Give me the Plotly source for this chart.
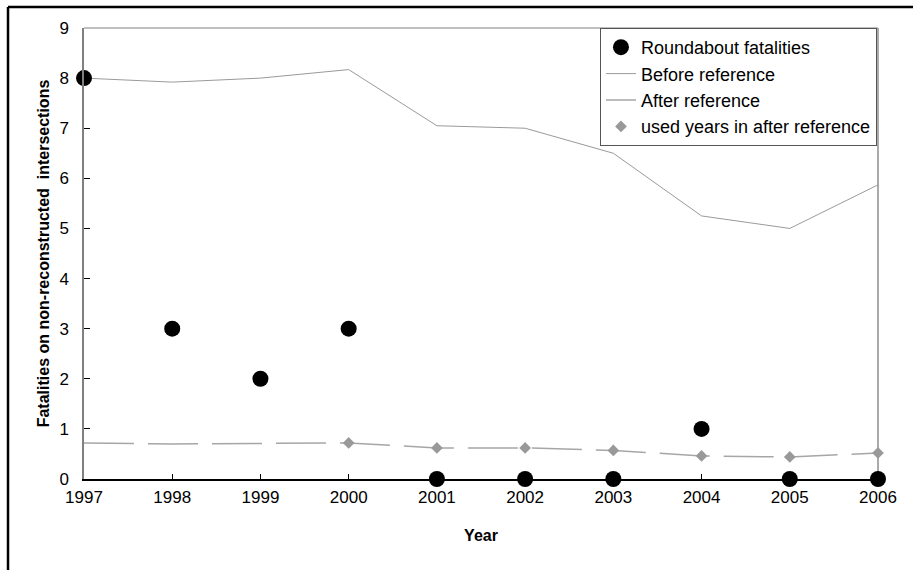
import plotly.graph_objects as go

years = [1997, 1998, 1999, 2000, 2001, 2002, 2003, 2004, 2005, 2006]
roundabout = [8, 3, 2, 3, 0, 0, 0, 1, 0, 0]
before_ref = [8.0, 7.92, 8.0, 8.17, 7.05, 7.0, 6.5, 5.25, 5.0, 5.87]
after_ref = [0.72, 0.70, 0.71, 0.72, 0.62, 0.62, 0.57, 0.46, 0.44, 0.52]
used_years = [2000, 2001, 2002, 2003, 2004, 2005, 2006]
used_vals = [0.72, 0.62, 0.62, 0.57, 0.46, 0.44, 0.52]

FONT = "Liberation Sans, Arial, sans-serif"

fig = go.Figure()

fig.add_trace(go.Scatter(
    x=years, y=before_ref, mode="lines", name="Before reference",
    line=dict(color="#9a9a9a", width=1), cliponaxis=False, legendrank=2,
))
fig.add_trace(go.Scatter(
    x=years, y=after_ref, mode="lines", name="After reference",
    line=dict(color="#a6a6a6", width=1.5, dash="50px,14px"), cliponaxis=False,
    legendrank=3,
))
fig.add_trace(go.Scatter(
    x=used_years, y=used_vals, mode="markers", name="used years in after reference",
    marker=dict(symbol="diamond", size=9, color="#999999"), cliponaxis=False,
    legendrank=4,
))
# circles drawn last so they sit on top of the lines
fig.add_trace(go.Scatter(
    x=years, y=roundabout, mode="markers", name="Roundabout fatalities",
    marker=dict(symbol="circle", size=16, color="black"), cliponaxis=False,
    legendrank=1,
))

# plot-area border (top and right) and outer frame
fig.add_shape(type="line", xref="paper", yref="paper", x0=0, x1=1, y0=1, y1=1,
              line=dict(color="#aaaaaa", width=1.5), layer="below")
fig.add_shape(type="line", xref="paper", yref="paper", x0=1, x1=1, y0=0, y1=1,
              line=dict(color="#aaaaaa", width=2), layer="below")
fig.add_shape(type="line", xref="paper", yref="paper", x0=-0.0957, x1=1.2, y0=1.0466, y1=1.0466,
              line=dict(color="black", width=2.5))
fig.add_shape(type="line", xref="paper", yref="paper", x0=-0.0957, x1=-0.0957, y0=1.0466, y1=-0.25,
              line=dict(color="black", width=2.5))

fig.update_layout(
    width=913, height=570,
    margin=dict(l=84, r=35, t=28, b=91),
    paper_bgcolor="white", plot_bgcolor="white",
    font=dict(family=FONT, size=16, color="black"),
    showlegend=True,
    legend=dict(
        x=0.9987, y=1.0, xanchor="right", yanchor="top",
        bgcolor="white", bordercolor="#555555", borderwidth=1,
        font=dict(size=18), traceorder="normal",
        tracegroupgap=0,
    ),
    xaxis=dict(
        range=[1997, 2006], tickmode="array", tickvals=years,
        ticks="inside", ticklen=5, tickcolor="black",
        showline=True, linecolor="black", linewidth=1.5,
        showgrid=False, zeroline=False,
        tickfont=dict(size=17), ticklabelstandoff=2,
        title=dict(text="<b>Year</b>", font=dict(size=16), standoff=24),
    ),
    yaxis=dict(
        range=[0, 9], tickmode="array", tickvals=list(range(10)),
        ticks="inside", ticklen=6, tickcolor="black",
        showline=True, linecolor="#808080", linewidth=1.5,
        showgrid=False, zeroline=False,
        tickfont=dict(size=17), ticklabelstandoff=10,
        title=dict(text="<b>Fatalities on non-reconstructed  intersections</b>",
                   font=dict(size=16), standoff=6),
    ),
)

fig.write_html("out.html")
